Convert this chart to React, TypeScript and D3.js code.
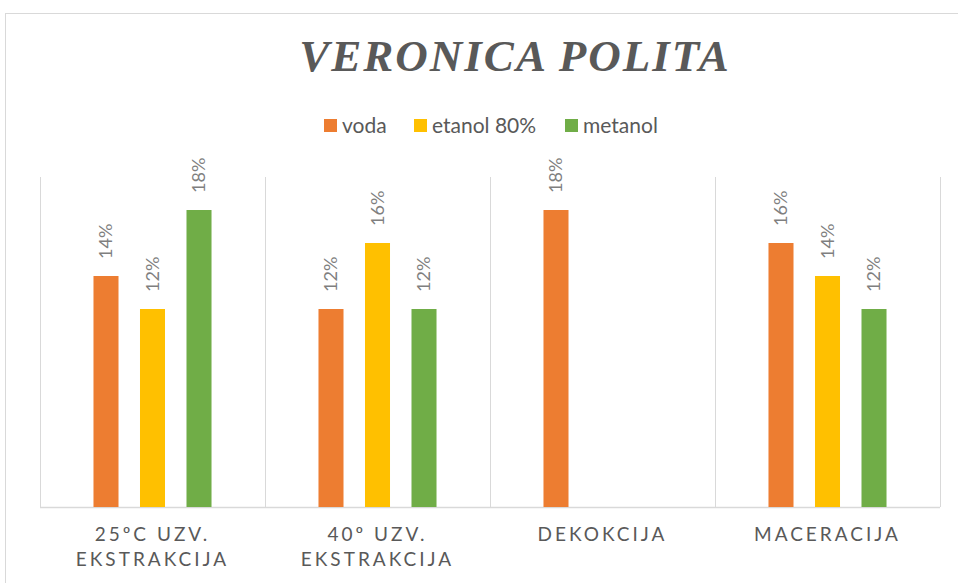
import { useEffect, useRef } from "react";
import * as d3 from "d3";

const categories = ["25ºC UZV. EKSTRAKCIJA", "40º UZV. EKSTRAKCIJA", "DEKOKCIJA", "MACERACIJA"];
const categoryLines = [["25ºC UZV.", "EKSTRAKCIJA"], ["40º UZV.", "EKSTRAKCIJA"], ["DEKOKCIJA"], ["MACERACIJA"]];
const seriesNames = ["voda", "etanol 80%", "metanol"];
const voda = [14, 12, 18, 16];
const etanol = [12, 16, null, 14];
const metanol = [18, 12, null, 12];
const colors = ["#ED7D31", "#FFC000", "#70AD47"];

const width = 958;
const height = 583;
const margin = { top: 177, right: 18, bottom: 76, left: 40 };

const App = () => {
  const svgRef = useRef<SVGSVGElement>(null);

  useEffect(() => {
    if (!svgRef.current) return;
    const svg = d3.select(svgRef.current);
    svg.selectAll("*").remove();

    const series = [voda, etanol, metanol];

    const x0 = d3
      .scaleBand<string>()
      .domain(categories)
      .range([margin.left, width - margin.right]);
    const x1 = d3
      .scaleBand<string>()
      .domain(seriesNames)
      .range([0, x0.bandwidth()])
      .paddingInner(0.462)
      .paddingOuter(1.15);
    const y = d3
      .scaleLinear()
      .domain([0, 20])
      .range([height - margin.bottom, margin.top]);

    // outer chart border
    svg
      .append("rect")
      .attr("x", 5.5)
      .attr("y", 13.5)
      .attr("width", 1000)
      .attr("height", 1000)
      .attr("fill", "#fff")
      .attr("stroke", "#d9d9d9");

    // title
    svg
      .append("text")
      .attr("x", 515)
      .attr("y", 71)
      .attr("text-anchor", "middle")
      .attr("font-family", "'Liberation Serif', serif")
      .attr("font-weight", "bold")
      .attr("font-style", "italic")
      .attr("font-size", 45)
      .attr("letter-spacing", 2)
      .attr("fill", "#595959")
      .text("VERONICA POLITA");

    // legend
    const legendX = [324, 414, 565];
    const legend = svg
      .append("g")
      .selectAll("g")
      .data(seriesNames)
      .join("g")
      .attr("transform", (_, i) => `translate(${legendX[i]}, 119)`);
    legend
      .append("rect")
      .attr("width", 13)
      .attr("height", 13)
      .attr("fill", (_, i) => colors[i]);
    legend
      .append("text")
      .attr("x", 18)
      .attr("y", 14)
      .attr("font-family", "Lato, sans-serif")
      .attr("font-size", 21)
      .attr("fill", "#595959")
      .text((d) => d);

    // vertical separators
    const bounds = [...categories.map((c) => x0(c)!), width - margin.right];
    svg
      .append("g")
      .selectAll("line")
      .data(bounds)
      .join("line")
      .attr("x1", (d) => d + 0.5)
      .attr("x2", (d) => d + 0.5)
      .attr("y1", y(20))
      .attr("y2", y(0))
      .attr("stroke", "#d9d9d9");

    // baseline
    svg
      .append("line")
      .attr("x1", margin.left)
      .attr("x2", width - margin.right)
      .attr("y1", y(0) + 0.5)
      .attr("y2", y(0) + 0.5)
      .attr("stroke", "#d9d9d9")
      .attr("stroke-width", 1.5);

    // bars + labels
    series.forEach((vals, si) => {
      const g = svg.append("g");
      const pts = categories
        .map((c, ci) => ({ c, v: vals[ci] }))
        .filter((d) => d.v !== null) as { c: string; v: number }[];
      g.selectAll("rect")
        .data(pts)
        .join("rect")
        .attr("x", (d) => x0(d.c)! + x1(seriesNames[si])!)
        .attr("y", (d) => y(d.v))
        .attr("width", x1.bandwidth())
        .attr("height", (d) => y(0) - y(d.v))
        .attr("fill", colors[si]);
      g.selectAll("text")
        .data(pts)
        .join("text")
        .attr(
          "transform",
          (d) =>
            `translate(${x0(d.c)! + x1(seriesNames[si])! + x1.bandwidth() / 2}, ${y(d.v) - 17}) rotate(-90)`
        )
        .attr("dy", "0.36em")
        .attr("font-family", "Lato, sans-serif")
        .attr("font-size", 18)
        .attr("fill", "#7f7f7f")
        .text((d) => `${d.v}%`);
    });

    // category labels
    const cat = svg
      .append("g")
      .selectAll("text")
      .data(categories)
      .join("text")
      .attr("x", (d) => x0(d)! + x0.bandwidth() / 2)
      .attr("y", 541)
      .attr("text-anchor", "middle")
      .attr("font-family", "Lato, sans-serif")
      .attr("font-size", 19)
      .attr("letter-spacing", 3)
      .attr("fill", "#595959");
    cat
      .selectAll("tspan")
      .data((_, i) => categoryLines[i])
      .join("tspan")
      .attr("x", function () {
        return (this.parentNode as SVGTextElement).getAttribute("x");
      })
      .attr("dy", (_, i) => (i === 0 ? 0 : 25))
      .text((d) => d);
  }, []);

  return (
    <div style={{ position: "fixed", left: 0, top: 0, width, height, background: "#fff" }}>
      <svg ref={svgRef} width={width} height={height} style={{ display: "block" }}></svg>
    </div>
  );
};

export default App;
